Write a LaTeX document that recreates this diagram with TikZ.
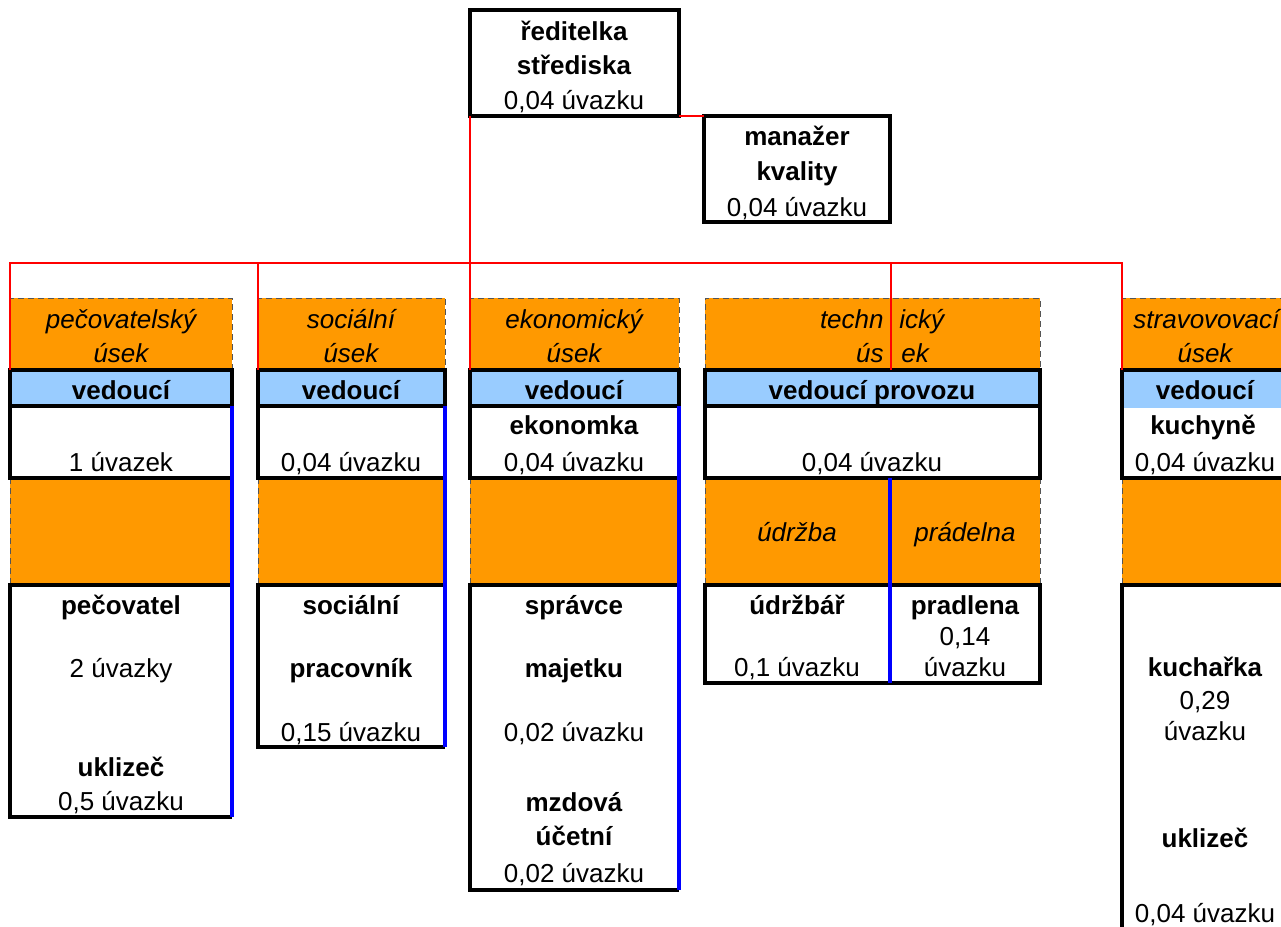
\documentclass[tikz,border=0pt]{standalone}
\usepackage{fontspec}
\setmainfont{Liberation Sans}
\definecolor{orng}{HTML}{FF9900}
\definecolor{lblu}{HTML}{99CCFF}
\definecolor{redl}{HTML}{FF0000}
\definecolor{blul}{HTML}{0000FF}
\definecolor{dgry}{HTML}{555555}
\tikzset{
 tx/.style={anchor=base, inner sep=0pt, font=\fontsize{13}{15}\selectfont},
 bx/.style={tx, font=\fontsize{13}{15}\selectfont\bfseries},
 ix/.style={tx, font=\fontsize{13}{15}\selectfont\itshape},
 blk/.style={draw=black, line width=1.6pt},
 dsh/.style={draw=dgry, densely dashed, line width=0.35pt},
 redc/.style={draw=redl, line width=1.3pt},
 blu/.style={draw=blul, line width=1.6pt},
 topbox/.style={draw=black, line width=1.6pt, inner sep=0pt, outer sep=0pt, anchor=north west},
}
\begin{document}
\begin{tikzpicture}[x=0.5pt, y=-0.5pt]
\useasboundingbox (0,0) rectangle (1281,927);
\clip (0,0) rectangle (1281,927);
% fills
\foreach \L/\R in {10/232, 258/445, 470/679, 705/1040, 1122/1290} {
  \fill[orng] (\L,298) rectangle (\R,370);
  \fill[orng] (\L,478) rectangle (\R,585);
  \draw[dsh] (\L,370) -- (\L,298) -- (\R,298) -- (\R,370);
  \draw[dsh] (\L,478) -- (\L,585);
}
\foreach \L/\R in {10/232, 258/445, 470/679, 705/1040} {
  \fill[lblu] (\L,370) rectangle (\R,406);
}
\fill[lblu] (1122,370) rectangle (1290,408);
\draw[dsh] (1040,478) -- (1040,585);
% columns 1-3
\foreach \L/\R/\B in {10/232/817, 258/445/747, 470/679/890} {
  \draw[blk] (\L,370) rectangle (\R,406);
  \draw[blk] (\L,406) -- (\L,478) -- (\R,478);
  \draw[blk] (\R,585) -- (\L,585) -- (\L,\B) -- (\R,\B);
  \draw[blu] (\R,406) -- (\R,\B);
}
% column 4
\draw[blk] (705,370) rectangle (1040,478);
\draw[blk] (705,406) -- (1040,406);
\draw[blk] (705,585) rectangle (1040,683);
\draw[blu] (890,478) -- (890,683);
% column 5
\draw[blk] (1290,370) -- (1122,370) -- (1122,478) -- (1290,478);
\draw[blk] (1290,585) -- (1122,585) -- (1122,940);
% top boxes
\node[topbox, minimum width=104.5pt, minimum height=53pt] (dir) at (470,10) {};
\node[topbox, minimum width=93pt, minimum height=53pt] (qm) at (704,116) {};
% connectors
\coordinate (k1) at (10,370); \coordinate (b1) at (10,263);
\coordinate (k2) at (258,370); \coordinate (b2) at (258,263);
\coordinate (k3) at (470,370);
\coordinate (k4) at (891,370); \coordinate (b4) at (891,263);
\coordinate (k5) at (1122,370); \coordinate (b5) at (1122,263);
\draw[redc] (k1) -- (b1) -- (b5) -- (k5);
\draw[redc] (b2) -- (k2);
\draw[redc] (b4) -- (k4);
\draw[redc] (dir.south west) -- (k3);
\draw[redc] (dir.south east) -- (qm.north west);
% texts top
\node[bx] (d1) at (574,40) {ředitelka};
\node[bx] (d2) at (574,74) {střediska};
\node[tx] (d3) at (574,109) {0,04 úvazku};
\node[bx] (q1) at (797,145) {manažer};
\node[bx] (q2) at (797,180) {kvality};
\node[tx] (q3) at (797,216) {0,04 úvazku};
% column 1
\node[ix] (a1) at (121,328) {pečovatelský};
\node[ix] (a2) at (121,362) {úsek};
\node[bx] (a3) at (121,399) {vedoucí};
\node[tx] (a4) at (121,471) {1 úvazek};
\node[bx] (a5) at (121,614) {pečovatel};
\node[tx] (a6) at (121,677) {2 úvazky};
\node[bx] (a7) at (121,776) {uklizeč};
\node[tx] (a8) at (121,810) {0,5 úvazku};
% column 2
\node[ix] (s1) at (351,328) {sociální};
\node[ix] (s2) at (351,362) {úsek};
\node[bx] (s3) at (351,399) {vedoucí};
\node[tx] (s4) at (351,471) {0,04 úvazku};
\node[bx] (s5) at (351,614) {sociální};
\node[bx] (s6) at (351,677) {pracovník};
\node[tx] (s7) at (351,741) {0,15 úvazku};
% column 3
\node[ix] (e1) at (574,328) {ekonomický};
\node[ix] (e2) at (574,362) {úsek};
\node[bx] (e3) at (574,399) {vedoucí};
\node[bx] (e4) at (574,434) {ekonomka};
\node[tx] (e5) at (574,471) {0,04 úvazku};
\node[bx] (e6) at (574,614) {správce};
\node[bx] (e7) at (574,677) {majetku};
\node[tx] (e8) at (574,741) {0,02 úvazku};
\node[bx] (e9) at (574,811) {mzdová};
\node[bx] (e10) at (574,845) {účetní};
\node[tx] (e11) at (574,882) {0,02 úvazku};
% column 4
\node[ix, anchor=base east] (t1) at (884,328) {techn};
\node[ix, anchor=base west] (t2) at (899,328) {ický};
\node[ix, anchor=base east] (t3) at (884,362) {ús};
\node[ix, anchor=base west] (t4) at (901,362) {ek};
\node[bx] (t5) at (872,399) {vedoucí provozu};
\node[tx] (t6) at (872,471) {0,04 úvazku};
\node[ix] (t7) at (797,541) {údržba};
\node[ix] (t8) at (965,541) {prádelna};
\node[bx] (t9) at (797,614) {údržbář};
\node[bx] (t10) at (965,614) {pradlena};
\node[tx] (t11) at (965,645) {0,14};
\node[tx] (t12) at (797,676) {0,1 úvazku};
\node[tx] (t13) at (965,676) {úvazku};
% column 5
\node[ix, anchor=base west] (k1t) at (1133,328) {stravovovací};
\node[ix] (k2t) at (1205,362) {úsek};
\node[bx] (k3t) at (1205,399) {vedoucí};
\node[bx] (k4t) at (1203,434) {kuchyně};
\node[tx] (k5t) at (1205,471) {0,04 úvazku};
\node[bx] (k6t) at (1205,676) {kuchařka};
\node[tx] (k7t) at (1205,709) {0,29};
\node[tx] (k8t) at (1205,740) {úvazku};
\node[bx] (k9t) at (1205,847) {uklizeč};
\node[tx] (k10t) at (1205,922) {0,04 úvazku};
\end{tikzpicture}
\end{document}
